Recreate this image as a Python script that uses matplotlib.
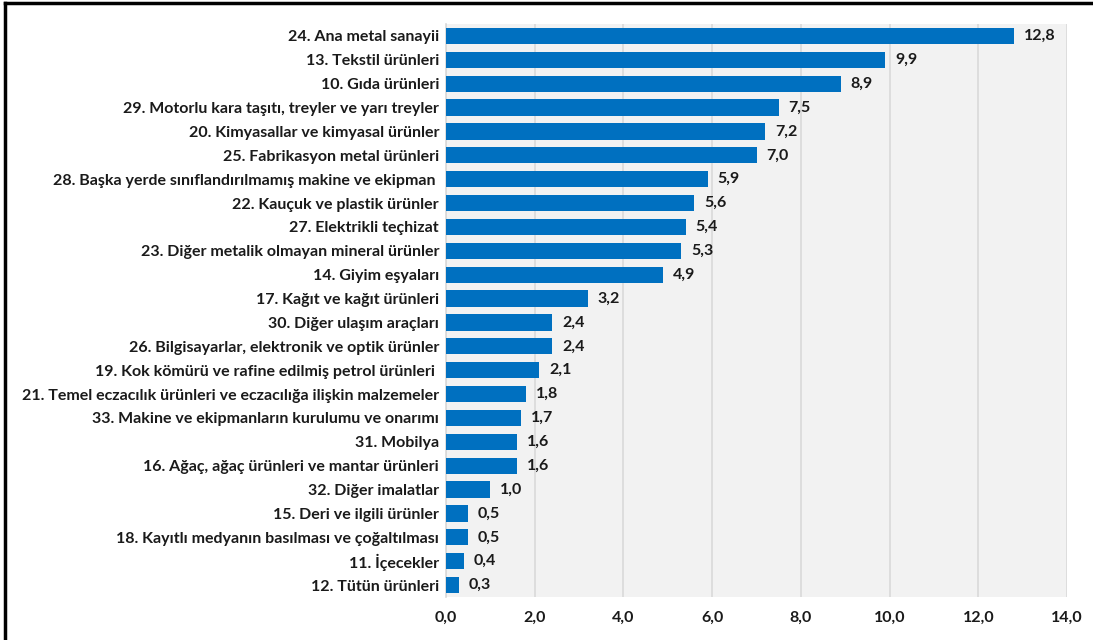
import matplotlib.pyplot as plt
from matplotlib.lines import Line2D

labels = [
    "24. Ana metal sanayii",
    "13. Tekstil ürünleri",
    "10. Gıda ürünleri",
    "29. Motorlu kara taşıtı, treyler ve yarı treyler",
    "20. Kimyasallar ve kimyasal ürünler",
    "25. Fabrikasyon metal ürünleri",
    "28. Başka yerde sınıflandırılmamış makine ve ekipman ",
    "22. Kauçuk ve plastik ürünler",
    "27. Elektrikli teçhizat",
    "23. Diğer metalik olmayan mineral ürünler",
    "14. Giyim eşyaları",
    "17. Kağıt ve kağıt ürünleri",
    "30. Diğer ulaşım araçları",
    "26. Bilgisayarlar, elektronik ve optik ürünler",
    "19. Kok kömürü ve rafine edilmiş petrol ürünleri ",
    "21. Temel eczacılık ürünleri ve eczacılığa ilişkin malzemeler",
    "33. Makine ve ekipmanların kurulumu ve onarımı",
    "31. Mobilya",
    "16. Ağaç, ağaç ürünleri ve mantar ürünleri",
    "32. Diğer imalatlar",
    "15. Deri ve ilgili ürünler",
    "18. Kayıtlı medyanın basılması ve çoğaltılması",
    "11. İçecekler",
    "12. Tütün ürünleri",
]
values = [12.8, 9.9, 8.9, 7.5, 7.2, 7.0, 5.9, 5.6, 5.4, 5.3, 4.9, 3.2, 2.4, 2.4,
          2.1, 1.8, 1.7, 1.6, 1.6, 1.0, 0.5, 0.5, 0.4, 0.3]
xticks = [0, 2, 4, 6, 8, 10, 12, 14]

plt.rcParams['font.family'] = ['Lato', 'DejaVu Sans']
plt.rcParams['font.weight'] = 'bold'

fig = plt.figure(figsize=(10.93, 6.40), dpi=100)
ax = fig.add_axes([446 / 1093, 1 - 597 / 640, (1067 - 446) / 1093, (597 - 24) / 640])
ax.set_facecolor('#F2F2F2')

y = list(range(len(labels)))
ax.barh(y, values, height=0.68, color='#0070C0', zorder=3)
for yi, v in zip(y, values):
    ax.text(v + 0.22, yi, f"{v:.1f}".replace('.', ','), va='center', ha='left',
            fontsize=11.5, fontweight='bold', color='#1a1a1a', zorder=4)

ax.set_ylim(len(labels) - 0.5, -0.5)
ax.set_xlim(0, 14)
ax.set_xticks(xticks)
ax.set_xticklabels([f"{t:.1f}".replace('.', ',') for t in xticks])
ax.set_yticks(y)
ax.set_yticklabels(labels)
ax.tick_params(axis='both', length=0, labelsize=11.5, labelcolor='#1a1a1a')
ax.tick_params(axis='x', pad=10)
ax.tick_params(axis='y', pad=5)
for lab in ax.get_xticklabels() + ax.get_yticklabels():
    lab.set_fontweight('bold')

ax.grid(axis='x', color='#D9D9D9', linewidth=1.2, zorder=0)
for s in ['top', 'right', 'bottom']:
    ax.spines[s].set_visible(False)
ax.spines['left'].set_color('#D9D9D9')
ax.spines['left'].set_linewidth(1.2)

# frame around the chart (left and top edges visible)
fig.add_artist(Line2D([5 / 1093, 5 / 1093], [0, 1 - 3 / 640], color='black', linewidth=2.5))
fig.add_artist(Line2D([5 / 1093, 1], [1 - 3 / 640, 1 - 3 / 640], color='black', linewidth=2.5))

fig.savefig('out.png', dpi=100)
